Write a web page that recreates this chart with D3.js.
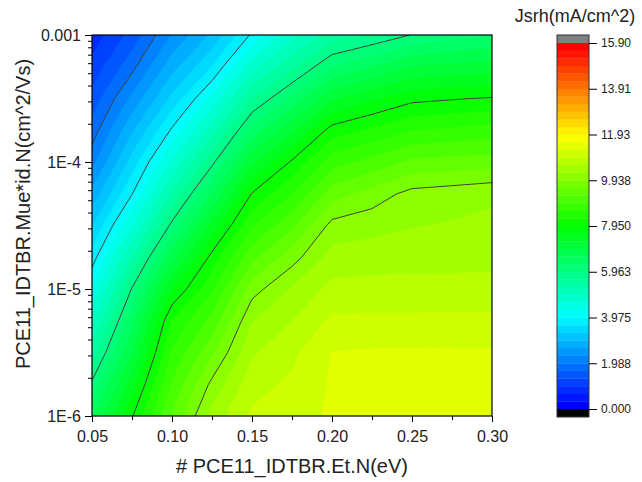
<!DOCTYPE html>
<html>
<head>
<meta charset="utf-8">
<script src="https://cdn.jsdelivr.net/npm/d3@7"></script>
<style>
  body { margin: 0; background: #fff; }
  svg { display: block; font-family: "Liberation Sans", Arial, sans-serif; }
</style>
</head>
<body>
<svg id="chart" width="642" height="482"></svg>
<script>
// Trap energy Et (eV), one column per value
const trapEnergy = [0.05, 0.075, 0.10, 0.125, 0.15, 0.175, 0.20, 0.225, 0.25, 0.275, 0.30];
// Mobility Mue*id (cm^2/Vs), rows from the top of the plot down
const mobility = [1e-3, 5.62e-4, 3.16e-4, 1.78e-4, 1e-4, 5.62e-5, 3.16e-5, 1.78e-5,
                  1e-5, 5.62e-6, 3.16e-6, 1.78e-6, 1e-6];
// Jsrh (mA/cm^2), one row per mobility value, one entry per trap energy
const jsrh = [
  [0.80, 1.45, 2.35, 3.04, 4.04, 4.85, 5.45, 5.68, 5.98, 6.15, 6.25],
  [1.10, 1.88, 2.85, 3.65, 4.83, 5.55, 6.28, 6.60, 6.95, 7.05, 7.10],
  [1.45, 2.40, 3.40, 4.39, 5.62, 6.36, 7.20, 7.55, 7.85, 7.92, 7.98],
  [1.80, 2.93, 4.03, 5.13, 6.40, 7.19, 8.10, 8.35, 8.60, 8.68, 8.75],
  [2.20, 3.45, 4.70, 5.87, 7.19, 8.00, 8.80, 9.05, 9.35, 9.40, 9.45],
  [2.75, 3.96, 5.35, 6.62, 7.97, 8.60, 9.45, 9.75, 10.05, 10.12, 10.20],
  [3.30, 4.60, 6.06, 7.38, 8.58, 9.20, 10.05, 10.15, 10.25, 10.30, 10.35],
  [3.80, 5.31, 6.83, 8.07, 9.18, 9.79, 10.40, 10.45, 10.47, 10.48, 10.50],
  [4.35, 5.99, 7.60, 8.56, 9.79, 10.30, 10.70, 10.72, 10.72, 10.72, 10.72],
  [4.90, 6.50, 8.30, 9.05, 10.25, 10.60, 11.00, 11.00, 11.00, 11.01, 11.01],
  [5.45, 6.95, 8.65, 9.54, 10.55, 10.85, 11.27, 11.30, 11.30, 11.30, 11.30],
  [6.03, 7.45, 8.98, 10.03, 10.80, 11.00, 11.30, 11.42, 11.45, 11.45, 11.45],
  [6.60, 7.92, 9.30, 10.40, 11.00, 11.10, 11.32, 11.48, 11.52, 11.52, 11.52]
];

// Axis ticks
const xTicks = [0.05, 0.10, 0.15, 0.20, 0.25, 0.30];
const xMinorTicks = [0.075, 0.125, 0.175, 0.225, 0.275];
const yTicks = [1e-3, 1e-4, 1e-5, 1e-6];
const yTickLabels = ["0.001", "1E-4", "1E-5", "1E-6"];
const yMinorTicks = [2e-6, 3e-6, 4e-6, 5e-6, 6e-6, 7e-6, 8e-6, 9e-6,
                     2e-5, 3e-5, 4e-5, 5e-5, 6e-5, 7e-5, 8e-5, 9e-5,
                     2e-4, 3e-4, 4e-4, 5e-4, 6e-4, 7e-4, 8e-4, 9e-4];

// Colour levels
const levelMin = 0, levelMax = 15.9, levelCount = 48;
const colorbarTicks = [0, 1.9875, 3.975, 5.9625, 7.95, 9.9375, 11.925, 13.9125, 15.9];
const colorbarLabels = ["0.000", "1.988", "3.975", "5.963", "7.950", "9.938", "11.93", "13.91", "15.90"];

const xTitle = "# PCE11_IDTBR.Et.N(eV)";
const yTitle = "PCE11_IDTBR.Mue*id.N(cm^2/Vs)";
const zTitle = "Jsrh(mA/cm^2)";

const svg = d3.select("#chart");
const plot = { left: 92, right: 492, top: 35, bottom: 416 };

const x = d3.scaleLinear().domain([0.05, 0.30]).range([plot.left, plot.right]);
const y = d3.scaleLog().domain([1e-6, 1e-3]).range([plot.bottom, plot.top]);

const levelStep = (levelMax - levelMin) / levelCount;
const levels = d3.range(levelCount).map(i => levelMin + i * levelStep);
const majorLevels = levels.filter((_, i) => i > 0 && i % 6 === 0);

const rainbow = d3.scaleLinear()
  .domain([0, 0.25, 0.5, 0.75, 1])
  .range(["#0000ff", "#00ffff", "#00ff00", "#ffff00", "#ff0000"])
  .interpolate(d3.interpolateRgb);
const bandColor = i => rainbow(i / (levelCount - 1));

// Grid -> screen mapping for the contour polygons
const nx = trapEnergy.length, ny = mobility.length;
const colToEt = d3.scaleLinear().domain([0.5, nx - 0.5]).range([trapEnergy[0], trapEnergy[nx - 1]]);
const rowToLog = d3.scaleLinear().domain([0.5, ny - 0.5])
  .range([Math.log10(mobility[0]), Math.log10(mobility[ny - 1])]);
const gridProjection = d3.geoTransform({
  point(cx, cy) {
    this.stream.point(x(colToEt(cx)), y(Math.pow(10, rowToLog(cy))));
  }
});
const gridPath = d3.geoPath(gridProjection);
const values = jsrh.flat();

svg.append("clipPath").attr("id", "plot-clip")
  .append("rect")
  .attr("x", plot.left).attr("y", plot.top)
  .attr("width", plot.right - plot.left).attr("height", plot.bottom - plot.top);

const area = svg.append("g").attr("clip-path", "url(#plot-clip)");

// Filled bands
const bands = d3.contours().size([nx, ny]).thresholds(levels)(values);
area.append("g").selectAll("path")
  .data(bands)
  .join("path")
  .attr("d", gridPath)
  .attr("fill", (d, i) => bandColor(i))
  .attr("stroke", (d, i) => bandColor(i))
  .attr("stroke-width", 0.4);

// Contour lines at the labelled levels
const lines = d3.contours().size([nx, ny]).thresholds(majorLevels)(values);
area.append("g").selectAll("path")
  .data(lines)
  .join("path")
  .attr("d", gridPath)
  .attr("fill", "none")
  .attr("stroke", "#404040")
  .attr("stroke-width", 1);

// Frame
svg.append("rect")
  .attr("x", plot.left).attr("y", plot.top)
  .attr("width", plot.right - plot.left).attr("height", plot.bottom - plot.top)
  .attr("fill", "none").attr("stroke", "#000").attr("stroke-width", 1.2);

// X axis
const xAxis = svg.append("g").attr("transform", `translate(0,${plot.bottom})`)
  .call(d3.axisBottom(x).tickValues(xTicks).tickFormat(d3.format(".2f"))
    .tickSize(6).tickSizeOuter(0).tickPadding(9));
svg.append("g").attr("transform", `translate(0,${plot.bottom})`)
  .call(d3.axisBottom(x).tickValues(xMinorTicks).tickFormat("").tickSize(4).tickSizeOuter(0));

// Y axis
const yAxis = svg.append("g").attr("transform", `translate(${plot.left},0)`)
  .call(d3.axisLeft(y).tickValues(yTicks).tickFormat((d, i) => yTickLabels[i])
    .tickSize(7).tickSizeOuter(0).tickPadding(4));
svg.append("g").attr("transform", `translate(${plot.left},0)`)
  .call(d3.axisLeft(y).tickValues(yMinorTicks).tickFormat("").tickSize(4).tickSizeOuter(0));

svg.selectAll(".domain").remove();
svg.selectAll(".tick line").attr("stroke", "#000");
svg.selectAll(".tick text").attr("fill", "#222").style("font-size", "16px")
  .style("font-family", '"Liberation Sans", Arial, sans-serif');

// Axis titles
svg.append("text")
  .attr("x", (plot.left + plot.right) / 2).attr("y", 473)
  .attr("text-anchor", "middle").attr("fill", "#222")
  .style("font-size", "20px").text(xTitle);
svg.append("text")
  .attr("transform", "translate(30,214) rotate(-90)")
  .attr("text-anchor", "middle").attr("fill", "#222")
  .style("font-size", "20px").text(yTitle);

// Colour bar
const cb = { left: 557, width: 32, top: 43, bottom: 409, cap: 8 };
const cbScale = d3.scaleLinear().domain([levelMin, levelMax]).range([cb.bottom, cb.top]);
const cbG = svg.append("g");
cbG.selectAll("rect.band")
  .data(levels)
  .join("rect")
  .attr("class", "band")
  .attr("x", cb.left).attr("width", cb.width)
  .attr("y", d => cbScale(d + levelStep))
  .attr("height", d => cbScale(d) - cbScale(d + levelStep) + 0.3)
  .attr("fill", (d, i) => bandColor(i));
cbG.append("rect")
  .attr("x", cb.left).attr("width", cb.width)
  .attr("y", cb.top - cb.cap).attr("height", cb.cap)
  .attr("fill", "#808080");
cbG.append("rect")
  .attr("x", cb.left).attr("width", cb.width)
  .attr("y", cb.bottom).attr("height", cb.cap)
  .attr("fill", "#000");
cbG.append("rect")
  .attr("x", cb.left).attr("width", cb.width)
  .attr("y", cb.top - cb.cap).attr("height", cb.bottom - cb.top + 2 * cb.cap)
  .attr("fill", "none").attr("stroke", "#333").attr("stroke-width", 1);

const cbAxis = cbG.append("g").attr("transform", `translate(${cb.left + cb.width},0)`)
  .call(d3.axisRight(cbScale).tickValues(colorbarTicks)
    .tickFormat((d, i) => colorbarLabels[i]).tickSize(8).tickSizeOuter(0).tickPadding(4));
cbAxis.select(".domain").remove();
cbAxis.selectAll(".tick line").attr("stroke", "#000");
cbAxis.selectAll(".tick text").attr("fill", "#222").style("font-size", "12px")
  .style("font-family", '"Liberation Sans", Arial, sans-serif');

svg.append("text")
  .attr("x", 575).attr("y", 22)
  .attr("text-anchor", "middle").attr("fill", "#222")
  .style("font-size", "18px").text(zTitle);
</script>
</body>
</html>
